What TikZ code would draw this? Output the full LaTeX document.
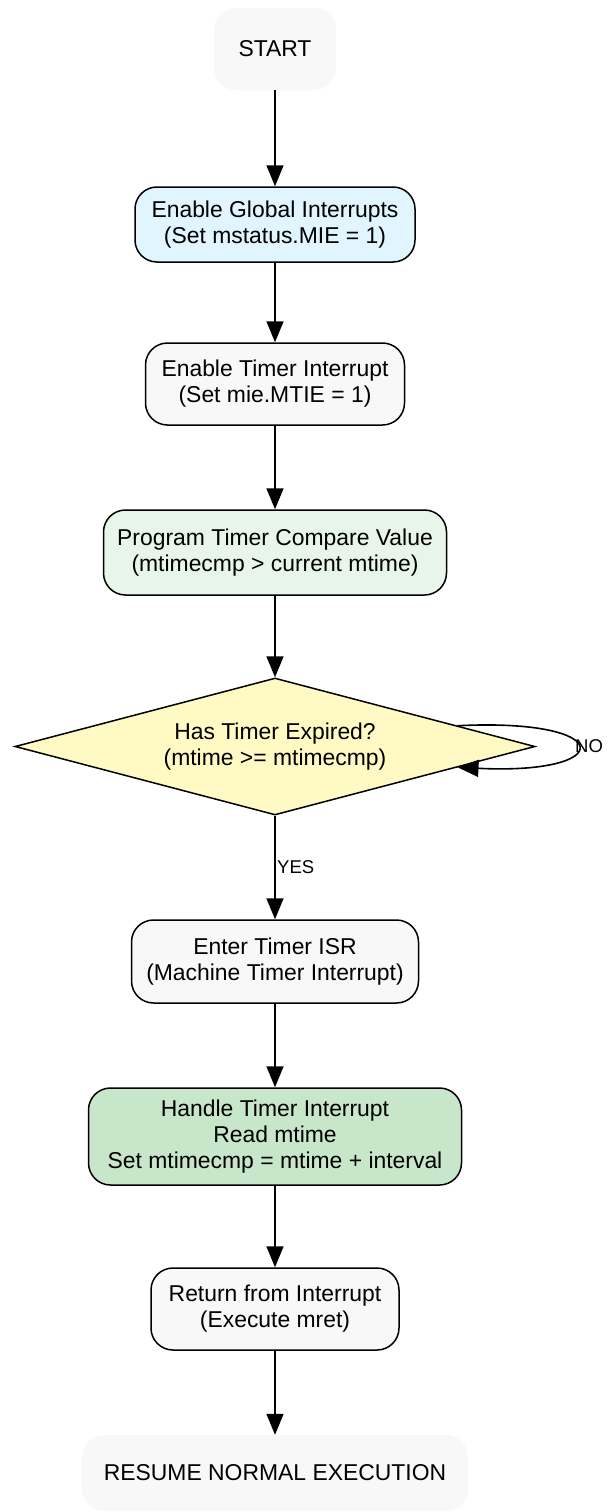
\documentclass[tikz,border=0pt]{standalone}
\usepackage{fontspec}
\setmainfont{Liberation Sans}
\usetikzlibrary{shapes.geometric,arrows.meta,calc}

\definecolor{termgray}{HTML}{F8F8F8}
\definecolor{globblue}{HTML}{E1F5FE}
\definecolor{cmpgreen}{HTML}{E8F5E9}
\definecolor{decyellow}{HTML}{FFF9C4}
\definecolor{handlegreen}{HTML}{C8E6C9}

\tikzset{
  termbox/.style={rectangle, rounded corners=22pt, fill=termgray, inner sep=0pt, align=center},
  procbox/.style={rectangle, rounded corners=22pt, draw=black, line width=1.5pt, inner sep=0pt, align=center},
  decbox/.style={diamond, aspect=3.8, draw=black, line width=1.5pt, fill=decyellow, inner sep=0pt, align=center},
  arr/.style={-{Triangle[length=21pt,width=17pt]}, line width=1.6pt},
  edgelabel/.style={font=\fontsize{18.5}{21}\selectfont, inner sep=0pt, anchor=west}
}

\begin{document}
\begin{tikzpicture}[x=1pt, y=-1pt, font=\fontsize{22.9}{26}\selectfont]

\useasboundingbox (0,0) rectangle (609,1512);

% The steps
\node[termbox, minimum width=122pt, minimum height=82pt] (start) at (275, 49) {START};
\node[procbox, fill=globblue, minimum width=280pt, minimum height=75pt] (glob) at (275, 224.5) {Enable Global Interrupts\\(Set mstatus.MIE = 1)};
\node[procbox, fill=termgray, minimum width=259pt, minimum height=82pt] (timer) at (275, 384) {Enable Timer Interrupt\\(Set mie.MTIE = 1)};
\node[procbox, fill=cmpgreen, minimum width=343pt, minimum height=85pt] (cmp) at (275, 552.5) {Program Timer Compare Value\\(mtimecmp > current mtime)};

% The check
\node[decbox, minimum width=520pt, minimum height=137pt] (dec) at (275, 746.5) {Has Timer Expired?\\(mtime >= mtimecmp)};

% The handler
\node[procbox, fill=termgray, minimum width=287pt, minimum height=83pt] (isr) at (275, 961.5) {Enter Timer ISR\\(Machine Timer Interrupt)};
\node[procbox, fill=handlegreen, minimum width=373pt, minimum height=97pt] (handle) at (275, 1136.5) {Handle Timer Interrupt\\Read mtime\\Set mtimecmp = mtime + interval};
\node[procbox, fill=termgray, minimum width=248pt, minimum height=82pt] (ret) at (275, 1309) {Return from Interrupt\\(Execute mret)};
\node[termbox, minimum width=386pt, minimum height=76pt] (resume) at (275, 1473) {RESUME NORMAL EXECUTION};

% Arrows
\draw[arr] (start) -- (glob);
\draw[arr] (glob) -- (timer);
\draw[arr] (timer) -- (cmp);
\draw[arr] (cmp) -- (dec);
\draw[arr] (dec) -- (isr);
\draw[arr] (isr) -- (handle);
\draw[arr] (handle) -- (ret);
\draw[arr] (ret) -- (resume);

% Loop back
\coordinate (loopout) at ($(dec.east)!0.3!(dec.north)$);
\coordinate (loopin) at ($(dec.east)!0.3!(dec.south)$);
\draw[arr] (loopout) .. controls +(160,-8) and +(160,8) .. (loopin);
\node[edgelabel] (nolabel) at (575, 746) {NO};
\node[edgelabel] (yeslabel) at (277, 867) {YES};

\end{tikzpicture}
\end{document}
